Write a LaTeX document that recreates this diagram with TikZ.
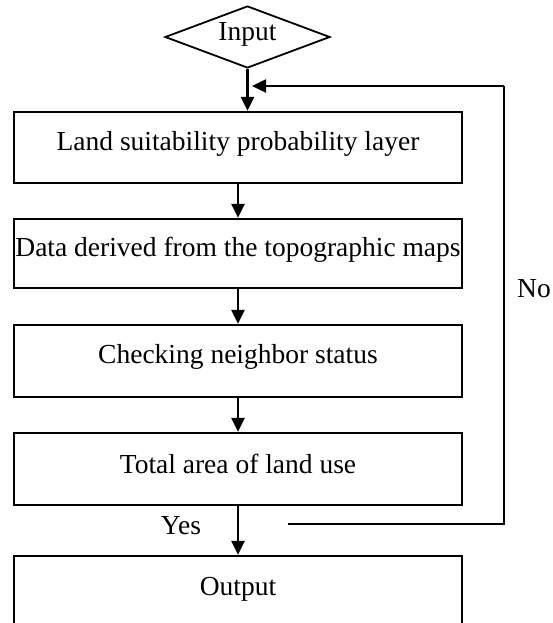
\documentclass[tikz,border=0pt]{standalone}
\usepackage{fontspec}
\setmainfont{Liberation Serif}
\usetikzlibrary{shapes.geometric,arrows.meta}
\begin{document}
\begin{tikzpicture}[x=1pt,y=-1pt,
  every node/.style={font=\fontsize{27.5}{32}\selectfont},
  stepbox/.style={draw,line width=2.2pt,minimum width=448pt,inner sep=0pt},
  lbl/.style={inner sep=0pt,anchor=center},
  arr/.style={line width=2.8pt,-{Triangle[length=14pt,width=13pt]}},
  fbline/.style={line width=2.2pt}]
\useasboundingbox (0,0) rectangle (552,623);
\node[draw,diamond,line width=1.8pt,inner sep=0pt,aspect=2.66,minimum width=165pt,minimum height=62pt] (in) at (247.5,37) {};
\node[lbl] (intxt) at (247.5,34) {Input};
\node[stepbox,minimum height=71pt] (b1) at (238,147.5) {};
\node[lbl] at (238,144) {Land suitability probability layer};
\node[stepbox,minimum height=69pt] (b2) at (238,253.5) {};
\node[lbl] at (238,250) {Data derived from the topographic maps};
\node[stepbox,minimum height=72pt] (b3) at (238,361) {};
\node[lbl] at (238,357) {Checking neighbor status};
\node[stepbox,minimum height=72pt] (b4) at (238,469) {};
\node[lbl] at (238,464) {Total area of land use};
\node[stepbox,minimum height=90pt] (out) at (238,601) {};
\node[lbl] at (238,589) {Output};
\node[lbl] (yes) at (181,526) {Yes};
\node[lbl] (no) at (534,289) {No};
\draw[arr] (in.south) -- (in.south |- b1.north);
\draw[arr] (b1.south) -- (b2.north);
\draw[arr] (b2.south) -- (b3.north);
\draw[arr] (b3.south) -- (b4.north);
\draw[arr] (b4.south) -- (out.north);
\coordinate (nostart) at (288,524);
\coordinate (nocorner) at (504,524);
\coordinate (notop) at (504,86);
\coordinate (notip) at (252,86);
\draw[fbline] (nostart) -- (nocorner) -- (notop);
\draw[arr,line width=2.4pt] (notop) -- (notip);
\end{tikzpicture}
\end{document}
